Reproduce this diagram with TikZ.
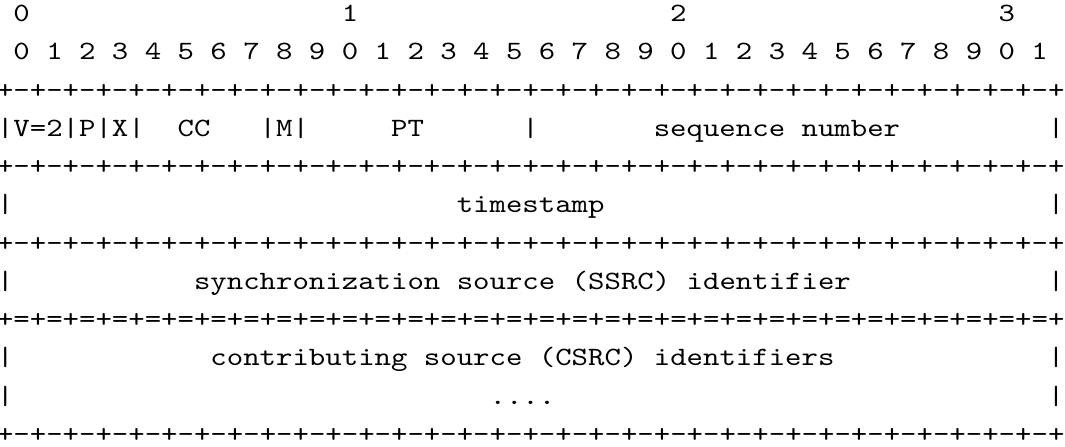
\documentclass[tikz,border=0pt]{standalone}
\usepackage{graphicx}
\newcommand\sx{1.564}
\newcommand\sy{1.32}
\newcommand\T[1]{\scalebox{\sx}[\sy]{#1}}
\tikzset{
  txt/.style={anchor=base west, inner sep=0pt, outer sep=0pt,
    font=\fontsize{10}{12}\selectfont\ttfamily},
}
\newcommand\cw{16.42}
\newcommand\xo{-3}
\newcommand\rb{21.7}
\newcommand\rp{38.25}
\begin{document}
\begin{tikzpicture}[x=0.5pt,y=-0.5pt]
\useasboundingbox (0,0) rectangle (1065,446);
% row 0: decades
\node[txt] (d0) at ({\xo+1*\cw},{\rb+0*\rp}) {\T{0}};
\node[txt] (d1) at ({\xo+21*\cw},{\rb+0*\rp}) {\T{1}};
\node[txt] (d2) at ({\xo+41*\cw},{\rb+0*\rp}) {\T{2}};
\node[txt] (d3) at ({\xo+61*\cw},{\rb+0*\rp}) {\T{3}};
% row 1: bit numbers
\foreach \i in {0,...,31}{
  \pgfmathtruncatemacro\dg{mod(\i,10)}
  \node[txt] (b\i) at ({\xo+(2*\i+1)*\cw},{\rb+1*\rp}) {\T{\dg}};
}
% separator rows
\node[txt] (s1) at ({\xo},{\rb+2*\rp}) {\T{+-+-+-+-+-+-+-+-+-+-+-+-+-+-+-+-+-+-+-+-+-+-+-+-+-+-+-+-+-+-+-+-+}};
\node[txt] (s2) at ({\xo},{\rb+4*\rp}) {\T{+-+-+-+-+-+-+-+-+-+-+-+-+-+-+-+-+-+-+-+-+-+-+-+-+-+-+-+-+-+-+-+-+}};
\node[txt] (s3) at ({\xo},{\rb+6*\rp}) {\T{+-+-+-+-+-+-+-+-+-+-+-+-+-+-+-+-+-+-+-+-+-+-+-+-+-+-+-+-+-+-+-+-+}};
\node[txt] (s4) at ({\xo},{\rb+8*\rp}) {\T{+=+=+=+=+=+=+=+=+=+=+=+=+=+=+=+=+=+=+=+=+=+=+=+=+=+=+=+=+=+=+=+=+}};
\node[txt] (s5) at ({\xo},{\rb+11*\rp}) {\T{+-+-+-+-+-+-+-+-+-+-+-+-+-+-+-+-+-+-+-+-+-+-+-+-+-+-+-+-+-+-+-+-+}};
% row 3: first header word
\node[txt] (vpx) at ({\xo+0*\cw},{\rb+3*\rp}) {\T{|V=2|P|X|}};
\node[txt] (cc)  at ({\xo+11*\cw},{\rb+3*\rp}) {\T{CC}};
\node[txt] (m)   at ({\xo+16*\cw},{\rb+3*\rp}) {\T{|M|}};
\node[txt] (pt)  at ({\xo+24*\cw},{\rb+3*\rp}) {\T{PT}};
\node[txt] (p3a) at ({\xo+32*\cw},{\rb+3*\rp}) {\T{|}};
\node[txt] (seq) at ({\xo+40*\cw},{\rb+3*\rp}) {\T{sequence number}};
\node[txt] (p3b) at ({\xo+64*\cw},{\rb+3*\rp}) {\T{|}};
% row 5: timestamp
\node[txt] (p5a) at ({\xo+0*\cw},{\rb+5*\rp}) {\T{|}};
\node[txt] (ts)  at ({\xo+28*\cw},{\rb+5*\rp}) {\T{timestamp}};
\node[txt] (p5b) at ({\xo+64*\cw},{\rb+5*\rp}) {\T{|}};
% row 7: SSRC
\node[txt] (p7a) at ({\xo+0*\cw},{\rb+7*\rp}) {\T{|}};
\node[txt] (ssrc) at ({\xo+12*\cw},{\rb+7*\rp}) {\T{synchronization source (SSRC) identifier}};
\node[txt] (p7b) at ({\xo+64*\cw},{\rb+7*\rp}) {\T{|}};
% row 9: CSRC
\node[txt] (p9a) at ({\xo+0*\cw},{\rb+9*\rp}) {\T{|}};
\node[txt] (csrc) at ({\xo+13*\cw},{\rb+9*\rp}) {\T{contributing source (CSRC) identifiers}};
\node[txt] (p9b) at ({\xo+64*\cw},{\rb+9*\rp}) {\T{|}};
% row 10: dots
\node[txt] (p10a) at ({\xo+0*\cw},{\rb+10*\rp}) {\T{|}};
\node[txt] (dots) at ({\xo+30*\cw},{\rb+10*\rp}) {\T{....}};
\node[txt] (p10b) at ({\xo+64*\cw},{\rb+10*\rp}) {\T{|}};
\end{tikzpicture}
\end{document}
